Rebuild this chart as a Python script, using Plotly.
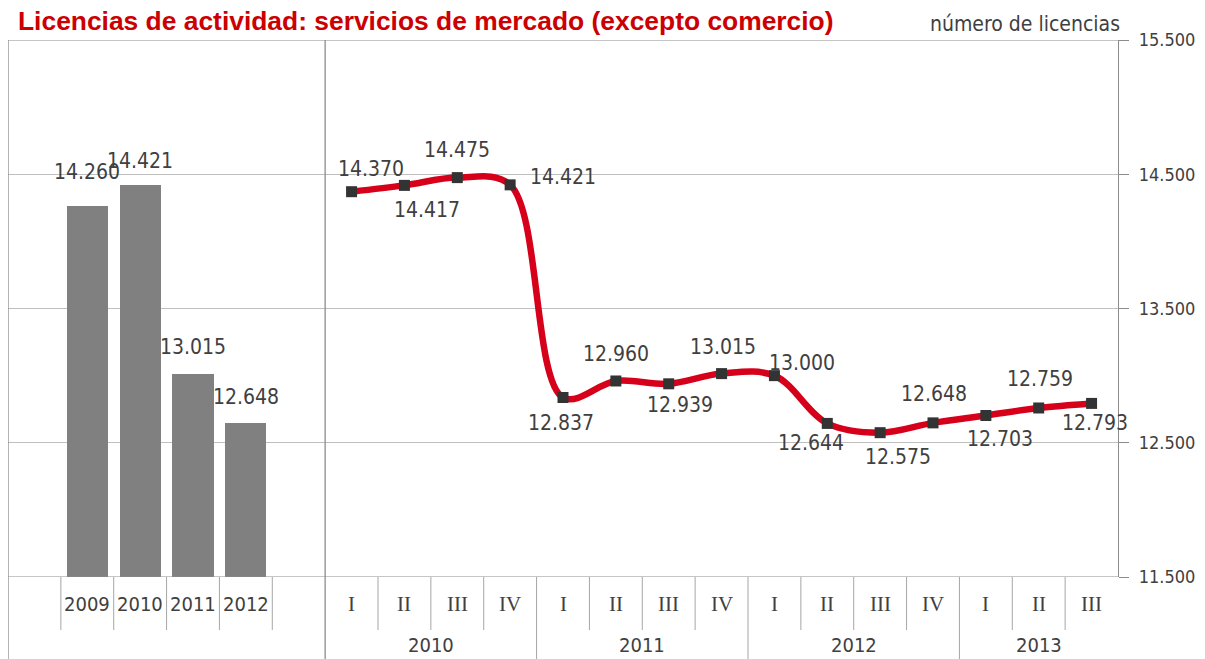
import plotly.graph_objects as go

# ---------------- data ----------------
bar_years = ["2009", "2010", "2011", "2012"]
bar_values = [14260, 14421, 13015, 12648]

quarter_labels = ["I", "II", "III", "IV", "I", "II", "III", "IV",
                  "I", "II", "III", "IV", "I", "II", "III"]
quarter_years = ["2010", "2010", "2010", "2010", "2011", "2011", "2011", "2011",
                 "2012", "2012", "2012", "2012", "2013", "2013", "2013"]
line_values = [14370, 14417, 14475, 14421, 12837, 12960, 12939, 13015,
               13000, 12644, 12575, 12648, 12703, 12759, 12793]

y_ticks = [11500, 12500, 13500, 14500, 15500]
y_tick_labels = ["11.500", "12.500", "13.500", "14.500", "15.500"]

title_text = "Licencias de actividad: servicios de mercado (excepto comercio)"
unit_text = "número de licencias"

# label offsets (pixels) - styling only
bar_label_shift = [34, 24, 27, 26]
line_label_shift = [(19, 23), (23, -25), (0, 28), (53, 8), (-2, -25), (0, 27),
                    (11, -21), (1, 27), (28, 13), (-16, -20), (18, -24), (1, 29),
                    (14, -23), (1, 29), (3, -20)]


def fmt(v):
    return f"{v:,}".replace(",", ".")


SANS = "DejaVu Sans Condensed, DejaVu Sans, sans-serif"
SERIF = "Liberation Serif, Times New Roman, serif"
TXT = "#404040"
GRID = "#BFBFBF"
LINE = "#8C8C8C"

# positions on a shared category index axis
n_left = len(bar_years) + 2
bar_x = [i + 1 for i in range(len(bar_years))]
line_x = [n_left + i for i in range(len(line_values))]
x_max = n_left + len(line_values) - 0.5

fig = go.Figure()

fig.add_trace(go.Bar(
    x=bar_x, y=bar_values, width=0.78,
    marker=dict(color="#808080", line=dict(width=0)),
    hoverinfo="skip", showlegend=False,
))

fig.add_trace(go.Scatter(
    x=line_x, y=line_values, mode="lines+markers",
    line=dict(color="#D7001B", width=6.5, shape="spline", smoothing=1.0),
    marker=dict(symbol="square", size=11, color="#333333"),
    hoverinfo="skip", showlegend=False,
))

annotations = []
for x, v, s in zip(bar_x, bar_values, bar_label_shift):
    annotations.append(dict(x=x, y=v, xref="x", yref="y", text=fmt(v),
                            showarrow=False, yshift=s,
                            font=dict(family=SANS, size=21, color=TXT)))
for x, v, (dx, dy) in zip(line_x, line_values, line_label_shift):
    annotations.append(dict(x=x, y=v, xref="x", yref="y", text=fmt(v),
                            showarrow=False, xshift=dx, yshift=dy,
                            font=dict(family=SANS, size=21, color=TXT)))

PLOT_H = 537.0
y_lab = -27 / PLOT_H
y_grp = -68 / PLOT_H
y_tick_end = -53 / PLOT_H
y_bottom = -82 / PLOT_H

for x, t in zip(bar_x, bar_years):
    annotations.append(dict(x=x, y=y_lab, xref="x", yref="paper", text=t,
                            showarrow=False, yanchor="middle",
                            font=dict(family=SANS, size=20, color=TXT)))
for x, t in zip(line_x, quarter_labels):
    annotations.append(dict(x=x, y=y_lab, xref="x", yref="paper", text=t,
                            showarrow=False, yanchor="middle",
                            font=dict(family=SERIF, size=21, color=TXT)))
groups = []
for x, yr in zip(line_x, quarter_years):
    if groups and groups[-1][0] == yr:
        groups[-1][2] = x
    else:
        groups.append([yr, x, x])
for yr, a, b in groups:
    annotations.append(dict(x=(a + b) / 2, y=y_grp, xref="x", yref="paper",
                            text=yr, showarrow=False, yanchor="middle",
                            font=dict(family=SANS, size=20, color=TXT)))

annotations.append(dict(x=1.0, y=1 + 16 / PLOT_H, xref="paper", yref="paper",
                        text=unit_text, showarrow=False, xanchor="right",
                        xshift=4, yanchor="middle",
                        font=dict(family=SANS, size=21, color=TXT)))

shapes = []
for yv in (y_ticks[0], y_ticks[-1]):
    shapes.append(dict(type="line", xref="paper", yref="y", x0=0, x1=1,
                       y0=yv, y1=yv, line=dict(color=LINE, width=1)))
for xv in (-0.5, n_left - 0.5):
    shapes.append(dict(type="line", xref="x", yref="paper", x0=xv, x1=xv,
                       y0=y_bottom, y1=1, line=dict(color=LINE, width=1.3)))
for i in range(len(bar_years) + 1):
    xv = i + 0.5
    shapes.append(dict(type="line", xref="x", yref="paper", x0=xv, x1=xv,
                       y0=y_tick_end, y1=0, line=dict(color="#A6A6A6", width=1)))
for k in range(1, len(line_x)):
    xv = line_x[k] - 0.5
    year_break = quarter_years[k] != quarter_years[k - 1]
    shapes.append(dict(type="line", xref="x", yref="paper", x0=xv, x1=xv,
                       y0=y_bottom if year_break else y_tick_end, y1=0,
                       line=dict(color="#A6A6A6", width=1)))

# the page body adds an 8px margin, so the figure is sized to the remaining area
W, H = 1197, 651
fig.update_layout(
    width=W, height=H,
    margin=dict(l=0, r=87, t=32, b=82, autoexpand=False),
    paper_bgcolor="white", plot_bgcolor="white",
    title=dict(text=f"<b>{title_text}</b>", x=10 / W, xanchor="left",
               y=1 - 13 / H, yanchor="middle",
               font=dict(family="Liberation Sans, Arial, sans-serif", size=26.4,
                         color="#CC0000")),
    xaxis=dict(range=[-0.5, x_max], visible=False, fixedrange=True),
    yaxis=dict(range=[y_ticks[0], y_ticks[-1]], side="right",
               tickvals=y_ticks, ticktext=y_tick_labels,
               showgrid=True, gridcolor=GRID, gridwidth=1,
               zeroline=False, showline=True, linecolor=LINE, linewidth=1.3,
               ticks="outside", ticklen=10, tickcolor=LINE,
               ticklabelstandoff=6,
               tickfont=dict(family=SANS, size=18, color=TXT)),
    annotations=annotations, shapes=shapes,
    bargap=0,
)

fig.write_html("out.html")
